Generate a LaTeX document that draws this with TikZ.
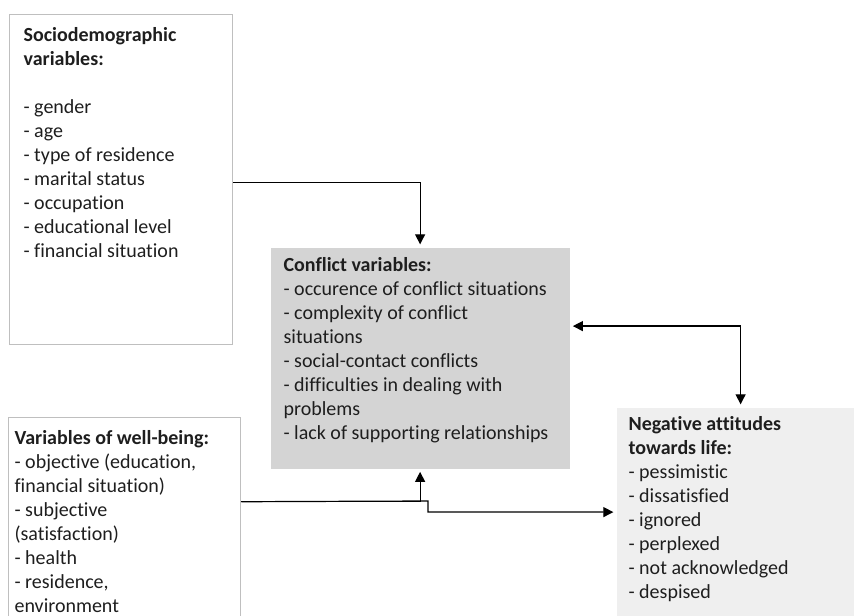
\documentclass[tikz,border=0pt]{standalone}
\usepackage{fontspec}
\setmainfont{Carlito}[Ligatures={NoCommon}]
\usepackage{tikz}
\usetikzlibrary{positioning, arrows.meta}
\usepackage{xcolor}
\definecolor{boxline}{HTML}{BFBFBF}
\definecolor{conffill}{HTML}{D4D4D4}
\definecolor{attfill}{HTML}{EFEFEF}
\definecolor{ink}{HTML}{1E1E1E}

\begin{document}
\begin{tikzpicture}[x=0.75pt,y=-0.75pt,->,>={Triangle[length=7.5pt,width=7.5pt]},shorten >=2pt,line width=0.9pt,
    box/.style={draw=boxline,line width=1.1pt,inner sep=0pt,anchor=north west},
    shaded/.style={fill=#1,inner sep=0pt,anchor=north west},
    txt/.style={anchor=north west,inner sep=0pt,align=left,text=ink,font=\fontsize{15pt}{18pt}\selectfont}]
      \useasboundingbox (0,0) rectangle (854,616);

      % boxes
      \node[box,minimum width=167.25pt,minimum height=247.5pt] (socio) at (9,14) {};
      \node[shaded=conffill,minimum width=224.25pt,minimum height=165.75pt] (conflict) at (270,247) {};
      \node[box,minimum width=174pt,minimum height=167.25pt] (wb) at (8,417) {};
      \node[shaded=attfill,minimum width=186pt,minimum height=156.75pt] (negative) at (616,407) {};

      % texts
      \node[txt] (sociotxt) at ([shift={(14,13)}]socio.north west)
        {\textbf{Sociodemographic}\\\textbf{variables:}\\\mbox{}\\- gender\\- age\\- type of residence\\- marital status\\- occupation\\- educational level\\- financial situation};
      \node[txt] (conflicttxt) at ([shift={(13,10)}]conflict.north west)
        {\textbf{Conflict variables:}\\- occurence of conflict situations\\- complexity of conflict\\situations\\- social-contact conflicts\\- difficulties in dealing with\\problems\\- lack of supporting relationships};
      \node[txt] (wbtxt) at ([shift={(6,13)}]wb.north west)
        {\textbf{Variables of well-being:}\\- objective (education,\\financial situation)\\- subjective\\(satisfaction)\\- health\\- residence,\\environment};
      \node[txt] (negativetxt) at ([shift={(12,9)}]negative.north west)
        {\textbf{Negative attitudes}\\\textbf{towards life:}\\- pessimistic\\- dissatisfied\\- ignored\\- perplexed\\- not acknowledged\\- despised};

      % connectors
      \coordinate (wbout) at ([shift={(0,-27.5)}]wb.east);
      \coordinate (fork) at (428,501);

      \draw ([shift={(0,3)}]socio.east) -| (conflict.north);
      \draw[<->,shorten <=2pt] ([shift={(0,-32)}]conflict.east) -| (negative.north);
      \draw (wbout) -| (conflict.south);
      \draw (wbout) -- (fork) |- (negative.west);
    \end{tikzpicture}
\end{document}
